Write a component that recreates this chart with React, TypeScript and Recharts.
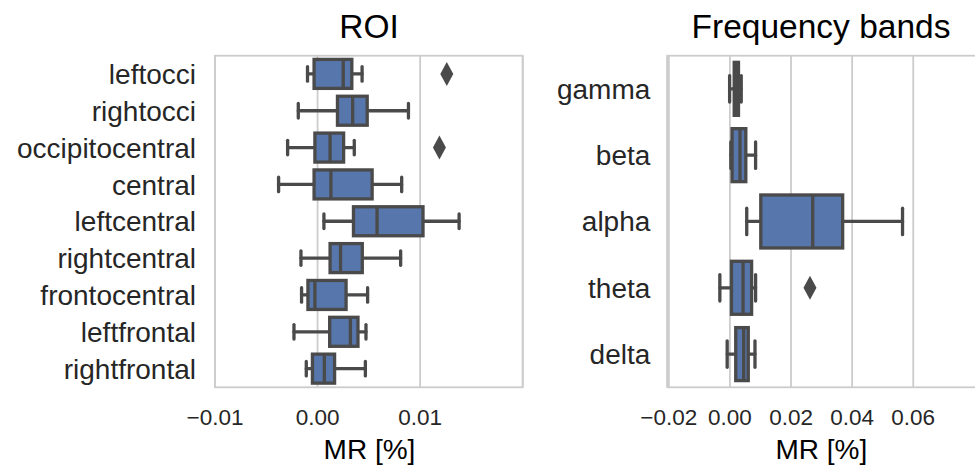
import { Bar, BarChart, CartesianGrid, XAxis, YAxis } from 'recharts'

// values (MR, fraction)
const roiNames = [
  'leftocci',
  'rightocci',
  'occipitocentral',
  'central',
  'leftcentral',
  'rightcentral',
  'frontocentral',
  'leftfrontal',
  'rightfrontal',
]
const roiLow = [-0.00049, -0.00094, -0.00146, -0.0019, 0.00031, -0.00081, -0.00078, -0.00115, -0.00055]
const roiQ1 = [-0.00017, 0.00097, -0.00013, -0.00017, 0.00175, 0.00061, -0.00047, 0.00059, -0.00025]
const roiMedian = [0.00125, 0.00171, 0.00061, 0.00065, 0.0029, 0.00112, -0.00013, 0.0016, 0.00033]
const roiQ3 = [0.00167, 0.00242, 0.00127, 0.00266, 0.00514, 0.00218, 0.00139, 0.00197, 0.00083]
const roiHigh = [0.00217, 0.00443, 0.00179, 0.0041, 0.0069, 0.00405, 0.00244, 0.00236, 0.00233]
const roiOutliers = [[0.0063], [], [0.00594], [], [], [], [], [], []]
const roiTicks = [-0.005, 0, 0.005]
const roiTickLabels = ['\u22120.01', '0.00', '0.01']

const bandNames = ['gamma', 'beta', 'alpha', 'theta', 'delta']
const bandLow = [-0.0001, 0.0003, 0.0055, -0.0033, -0.0009]
const bandQ1 = [0.0014, 0.0007, 0.0101, 0.0005, 0.0019]
const bandMedian = [0.002, 0.0033, 0.0271, 0.0043, 0.0045]
const bandQ3 = [0.0028, 0.0052, 0.0369, 0.0071, 0.006]
const bandHigh = [0.0037, 0.0084, 0.0565, 0.0084, 0.0082]
const bandOutliers = [[], [], [], [0.0262], []]
const bandTicks = [-0.02, 0, 0.02, 0.04, 0.06]
const bandTickLabels = ['\u22120.02', '0.00', '0.02', '0.04', '0.06']

type BoxRow = {
  name: string
  wl: number
  q1: number
  med: number
  q3: number
  wh: number
  outliers: number[]
}

function buildRows(
  names: string[],
  low: number[],
  q1: number[],
  med: number[],
  q3: number[],
  high: number[],
  outliers: number[][],
): BoxRow[] {
  return names.map((name, i) => ({
    name,
    wl: low[i],
    q1: q1[i],
    med: med[i],
    q3: q3[i],
    wh: high[i],
    outliers: outliers[i],
  }))
}

const roiRows = buildRows(roiNames, roiLow, roiQ1, roiMedian, roiQ3, roiHigh, roiOutliers)
const bandRows = buildRows(bandNames, bandLow, bandQ1, bandMedian, bandQ3, bandHigh, bandOutliers)

const FONT = '"Liberation Sans", Arial, Helvetica, sans-serif'
const BOX_FILL = '#5776ab'
const LINE = '#4a4a4a'
const GRID = '#cccccc'
const TEXT = '#262626'

// the bar spans whisker-low..whisker-high, everything else is placed on the same scale
function BoxShape(props: any) {
  const { x, y, width, height, payload } = props
  if (!payload || width == null) return null
  const row = payload as BoxRow
  const px = (v: number) => x + ((v - row.wl) / (row.wh - row.wl)) * width
  const cy = y + height / 2
  const cap = height / 4
  const sw = 3.3
  return (
    <g>
      <line x1={px(row.wl)} y1={cy} x2={px(row.q1)} y2={cy} stroke={LINE} strokeWidth={sw} strokeLinecap="round" />
      <line x1={px(row.q3)} y1={cy} x2={px(row.wh)} y2={cy} stroke={LINE} strokeWidth={sw} strokeLinecap="round" />
      <line x1={px(row.wl)} y1={cy - cap} x2={px(row.wl)} y2={cy + cap} stroke={LINE} strokeWidth={sw} strokeLinecap="round" />
      <line x1={px(row.wh)} y1={cy - cap} x2={px(row.wh)} y2={cy + cap} stroke={LINE} strokeWidth={sw} strokeLinecap="round" />
      <rect
        x={px(row.q1)}
        y={y}
        width={px(row.q3) - px(row.q1)}
        height={height}
        fill={BOX_FILL}
        stroke={LINE}
        strokeWidth={sw}
      />
      <line x1={px(row.med)} y1={y} x2={px(row.med)} y2={y + height} stroke={LINE} strokeWidth={sw} />
      {row.outliers.map((o, i) => {
        const ox = px(o)
        return (
          <polygon
            key={i}
            points={`${ox},${cy - 12} ${ox + 6.5},${cy} ${ox},${cy + 12} ${ox - 6.5},${cy}`}
            fill={LINE}
          />
        )
      })}
    </g>
  )
}

type PanelProps = {
  rows: BoxRow[]
  domain: [number, number]
  ticks: number[]
  tickLabels: string[]
  width: number
  axisWidth: number
  labelGap: number
  marginRight: number
}

function BoxPanel({ rows, domain, ticks, tickLabels, width, axisWidth, labelGap, marginRight }: PanelProps) {
  return (
    <BarChart
      width={width}
      height={466}
      data={rows}
      layout="vertical"
      barCategoryGap="10%"
      margin={{ top: 55.7, right: marginRight, left: 0, bottom: 38.7 }}
    >
      <CartesianGrid horizontal={false} stroke={GRID} strokeWidth={1.8} />
      <XAxis
        type="number"
        domain={domain}
        allowDataOverflow
        ticks={ticks}
        interval={0}
        height={40}
        tickSize={0}
        tickMargin={22}
        axisLine={false}
        tickLine={false}
        tickFormatter={(v) => tickLabels[ticks.indexOf(Number(v))] ?? String(v)}
        tick={{ fontSize: 22.5, fill: TEXT, fontFamily: FONT }}
      />
      <YAxis
        type="category"
        dataKey="name"
        width={axisWidth}
        interval={0}
        tickSize={0}
        tickMargin={labelGap}
        axisLine={false}
        tickLine={false}
        tick={{ fontSize: 28, fill: TEXT, fontFamily: FONT }}
      />
      <Bar dataKey={(d: BoxRow) => [d.wl, d.wh]} shape={BoxShape} isAnimationActive={false} />
    </BarChart>
  )
}

export default function App() {
  return (
    <div
      style={{
        position: 'absolute',
        left: 0,
        top: 0,
        width: 975,
        height: 466,
        overflow: 'hidden',
        background: '#ffffff',
        fontFamily: FONT,
      }}
    >
      <div style={{ position: 'absolute', left: 0, top: 0 }}>
        <BoxPanel
          rows={roiRows}
          domain={[-0.005, 0.01]}
          ticks={roiTicks}
          tickLabels={roiTickLabels}
          width={540}
          axisWidth={215}
          labelGap={19}
          marginRight={17.3}
        />
      </div>
      <div style={{ position: 'absolute', left: 540, top: 0 }}>
        <BoxPanel
          rows={bandRows}
          domain={[-0.0205, 0.081]}
          ticks={bandTicks}
          tickLabels={bandTickLabels}
          width={447.4}
          axisWidth={127.3}
          labelGap={17}
          marginRight={10}
        />
      </div>
      <svg
        width={975}
        height={466}
        style={{ position: 'absolute', left: 0, top: 0, pointerEvents: 'none' }}
      >
        <rect x={215} y={55.7} width={307.7} height={331.6} fill="none" stroke={GRID} strokeWidth={1.8} />
        <rect x={667.3} y={55.7} width={310.1} height={331.6} fill="none" stroke={GRID} strokeWidth={1.8} />
        <text x={369} y={38.3} textAnchor="middle" fontSize={33.5} fill="#000" fontFamily={FONT}>
          ROI
        </text>
        <text x={821} y={38.3} textAnchor="middle" fontSize={33.5} fill="#000" fontFamily={FONT}>
          Frequency bands
        </text>
        <text x={369.5} y={458.5} textAnchor="middle" fontSize={28} fill="#000" fontFamily={FONT}>
          MR [%]
        </text>
        <text x={821.3} y={458.5} textAnchor="middle" fontSize={28} fill="#000" fontFamily={FONT}>
          MR [%]
        </text>
      </svg>
    </div>
  )
}
